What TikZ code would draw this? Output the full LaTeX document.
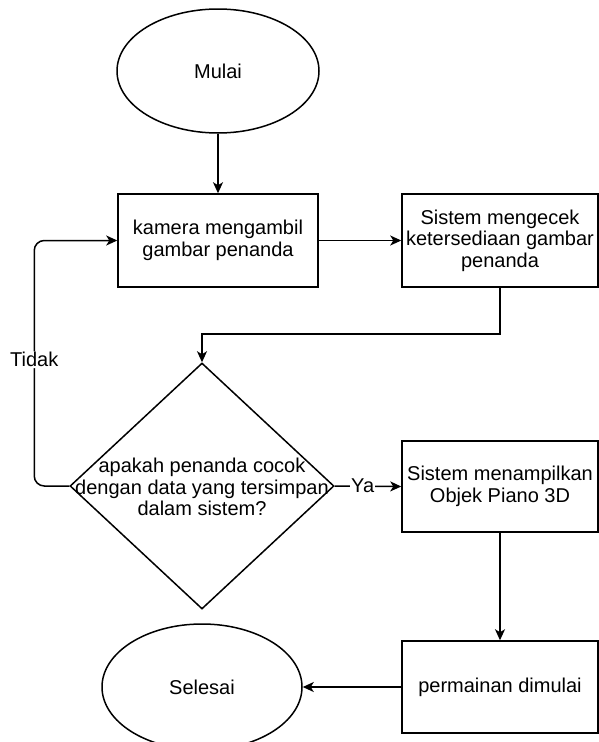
\documentclass[tikz,border=0pt]{standalone}
\usepackage{fontspec}
\setmainfont{Liberation Sans}
\usetikzlibrary{shapes.geometric,arrows.meta}
\begin{document}
\begin{tikzpicture}[x=1pt,y=-1pt,
  every node/.style={font=\fontsize{20}{21.5}\selectfont, align=center, inner sep=0pt},
  line/.style={line width=1.5pt, draw=black},
  arr/.style={line, -{Stealth[length=11pt,width=10pt,inset=3pt]}},
  term/.style={ellipse, line, minimum width=#1},
  proc/.style={rectangle, line, minimum width=196pt},
  decision/.style={diamond, line, minimum width=264pt, minimum height=246pt},
  lbl/.style={fill=white, inner sep=1pt}
]
\useasboundingbox (0,0) rectangle (599,742);
\fill[white] (0,0) rectangle (599,742);

\node[term=202pt, minimum height=124pt] (mulai) at (218,71) {Mulai};
\node[proc, minimum width=200pt, minimum height=93pt] (kamera) at (218,240.5) {kamera mengambil\\gambar penanda};
\node[proc, minimum height=93pt] (cek) at (500,240.5) {Sistem mengecek\\ketersediaan gambar\\penanda};
\node[decision] (dec) at (202,486) {};
\node (dectext) at (202,487) {apakah penanda cocok\\dengan data yang tersimpan\\dalam sistem?};
\node[proc, minimum height=91pt] (tampil) at (500,486.5) {Sistem menampilkan\\Objek Piano 3D};
\node[proc, minimum height=92pt] (main) at (500,687) {permainan dimulai};
\node[term=200pt, minimum height=126pt] (selesai) at (202,687) {Selesai};

\draw[arr] (mulai.south) -- (kamera.north);
\draw[arr] (kamera.east) -- (cek.west);
\draw[arr] (cek.south) -- ++(0,46) -| (dec.north);
\draw[arr, rounded corners=10pt] (dec.west) -- ++(-35,0) |- node[lbl, pos=0.257] (tidak) {Tidak} (kamera.west);
\draw[arr] (dec.east) -- node[lbl, pos=0.42] (ya) {Ya} (tampil.west);
\draw[arr] (tampil.south) -- (main.north);
\draw[arr] (main.west) -- (selesai.east);
\end{tikzpicture}
\end{document}
